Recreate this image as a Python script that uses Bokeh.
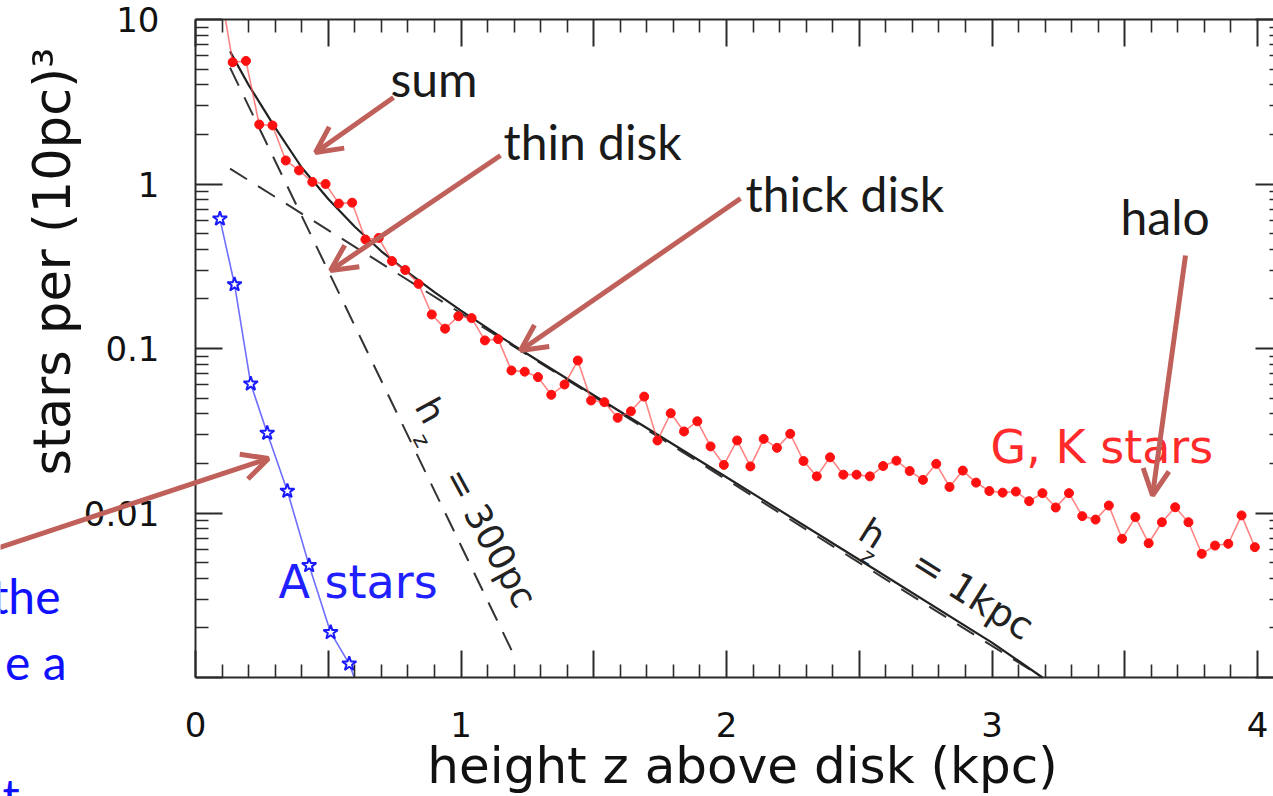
import math
from bokeh.plotting import figure
from bokeh.models import Range1d, FixedTicker, LinearAxis, LogAxis, Label, Arrow, OpenHead
from bokeh.embed import file_html
from bokeh.resources import INLINE

# ---------------- data ----------------
gk_z = [0.14, 0.19, 0.24, 0.29, 0.34, 0.39, 0.44, 0.49, 0.54, 0.59, 0.64, 0.69,
        0.74, 0.79, 0.84, 0.89, 0.94, 0.99, 1.04, 1.09, 1.14, 1.19, 1.24, 1.29, 1.34,
        1.39, 1.44, 1.49, 1.54, 1.59, 1.64, 1.69, 1.74, 1.79, 1.84, 1.89, 1.94, 1.99,
        2.04, 2.09, 2.14, 2.19, 2.24, 2.29, 2.34, 2.39, 2.44, 2.49, 2.54, 2.59, 2.64,
        2.69, 2.74, 2.79, 2.84, 2.89, 2.94, 2.99, 3.04, 3.09, 3.14, 3.19, 3.24, 3.29,
        3.34, 3.39, 3.44, 3.49, 3.54, 3.59, 3.64, 3.69, 3.74, 3.79, 3.84, 3.89, 3.94, 3.99]
gk_n = [5.5, 5.6, 2.30, 2.27, 1.39, 1.21, 1.03, 1.00, 0.76, 0.77, 0.46, 0.47,
        0.34, 0.30, 0.247, 0.161, 0.132, 0.157, 0.153, 0.112, 0.114, 0.0735, 0.0723, 0.067, 0.0523,
        0.0604, 0.0845, 0.0483, 0.0472, 0.0379, 0.0415, 0.051, 0.0276, 0.0404, 0.0313, 0.0361, 0.0254, 0.0196,
        0.0276, 0.0192, 0.0282, 0.0249, 0.0303, 0.0207, 0.0167, 0.0218, 0.0171, 0.0171, 0.0167, 0.0193, 0.0208,
        0.0180, 0.0159, 0.0199, 0.0144, 0.0181, 0.0153, 0.0136, 0.0133, 0.0135, 0.0118, 0.0132, 0.0108, 0.0132,
        0.00957, 0.00912, 0.0111, 0.00697, 0.00944, 0.00655, 0.00879, 0.01084, 0.00879, 0.00565, 0.00634, 0.0065, 0.00967, 0.0062]
# where the G,K line enters from above the top of the box
gk_entry_z = [0.113]
gk_entry_n = [10.0]

a_z = [0.092, 0.147, 0.208, 0.27, 0.346, 0.428, 0.509, 0.579, 0.598]
a_n = [0.614, 0.245, 0.061, 0.0306, 0.0136, 0.0048, 0.00188, 0.00121, 0.001]
a_mark = 8  # number of measured A-star points (last entry is where the line leaves the box)

thin_z = [0.13, 1.2]
thin_n = [5.1, 0.00136]
thick_z = [0.13, 3.19]
thick_n = [1.24, 0.001]
sum_z = [0.13, 0.2, 0.3, 0.4, 0.5, 0.6, 0.7, 0.8, 0.9, 1.0, 1.2, 1.5, 2.0, 2.5, 3.0, 3.19]
sum_n = [6.4, 4.0, 2.2, 1.26, 0.81, 0.55, 0.39, 0.29, 0.22, 0.17, 0.104, 0.052, 0.0165, 0.0052, 0.00163, 0.001]

x_major = [0, 0.5, 1, 1.5, 2, 2.5, 3, 3.5, 4]
x_tick_labels = ["0", "", "1", "", "2", "", "3", "", "4"]
y_major = [0.001, 0.01, 0.1, 1, 10]
y_tick_labels = ["", "0.01", "0.1", "1", "10"]

x_minor = [round(i * 0.1, 1) for i in range(41) if i % 5 != 0]
y_minor = [m * 10.0 ** e for e in range(-3, 1) for m in range(2, 10)]

# ---------------- geometry (pixel placement of the box) ----------------
W, H = 1273, 796
PX0, PXU = 195, 265.5      # x=0 pixel, pixels per kpc
PY10, PYD = 19, 164.5      # y=10 pixel, pixels per decade


def X(px):
    return (px - PX0) / PXU


def Y(py):
    return 10 ** (1 - (py - PY10) / PYD)


def YB(py, fs):
    # baseline position compensated for the renderer's baseline offset
    return Y(py - 0.36 * fs)


X_RIGHT = X(1282)

IDL = "DejaVu Sans"
SLIDE = "Lato"
AX = "#2a2a2a"

p = figure(width=W, height=H, x_range=Range1d(X(0), X(W)), y_range=Range1d(Y(H), Y(0)),
           y_axis_type="log", output_backend="svg", toolbar_location=None,
           min_border_left=0, min_border_right=0, min_border_top=0, min_border_bottom=0)
p.grid.visible = False
p.outline_line_color = None
p.background_fill_color = "white"
p.border_fill_color = "white"

xt = FixedTicker(ticks=x_major, minor_ticks=x_minor)
yt = FixedTicker(ticks=y_major, minor_ticks=y_minor)


def style(ax):
    ax.axis_line_color = AX
    ax.axis_line_width = 2
    ax.major_tick_line_color = AX
    ax.major_tick_line_width = 2
    ax.minor_tick_line_color = AX
    ax.minor_tick_line_width = 1.6
    ax.major_tick_in = 27
    ax.major_tick_out = 0
    ax.minor_tick_in = 13
    ax.minor_tick_out = 0
    ax.major_label_text_font = IDL
    ax.major_label_text_font_size = "34px"
    ax.major_label_text_color = "#111111"


xa = p.xaxis[0]
xa.ticker = xt
xa.fixed_location = 0.001
xa.bounds = (0, X_RIGHT)
xa.major_label_overrides = {float(t): l for t, l in zip(x_major, x_tick_labels)}
style(xa)
xa.major_label_standoff = 34

ya = p.yaxis[0]
ya.ticker = yt
ya.fixed_location = 0
ya.bounds = (0.001, 10)
ya.major_label_overrides = {float(t): l for t, l in zip(y_major, y_tick_labels)}
style(ya)
ya.major_label_standoff = 36

top = LinearAxis(ticker=xt, fixed_location=10, bounds=(0, X_RIGHT))
style(top)
top.major_label_overrides = {float(t): "" for t in x_major}
p.add_layout(top, "above")
right = LogAxis(ticker=yt, fixed_location=X_RIGHT, bounds=(0.001, 10))
style(right)
right.major_label_overrides = {float(t): "" for t in y_major}
p.add_layout(right, "right")

# axis titles
p.add_layout(Label(x=X(742), y=YB(783, 50), text="height z above disk (kpc)", text_font=IDL,
                   text_font_size="50px", text_color="#111111", text_align="center",
                   text_baseline="alphabetic"))
p.add_layout(Label(x=X(52), y=Y(261), text="stars per (10pc)\u00b3", text_font=IDL,
                   text_font_size="51px", text_color="#111111", text_align="center",
                   text_baseline="middle", angle=math.pi / 2))

# model curves
p.line(thin_z, thin_n, line_color="#333333", line_width=2, line_dash="20 13")
p.line(thick_z, thick_n, line_color="#333333", line_width=2, line_dash="20 13")
p.line(sum_z, sum_n, line_color="#222222", line_width=2.2)

# G, K stars
p.line(gk_entry_z + gk_z, gk_entry_n + gk_n, line_color="#ff5050", line_alpha=0.7, line_width=1.6)
p.scatter(gk_z, gk_n, marker="circle", size=9, fill_color="#ff1010", line_color="#ff1010")

# A stars
p.line(a_z, a_n, line_color="#4a4aff", line_alpha=0.8, line_width=1.6)
p.scatter(a_z[:a_mark], a_n[:a_mark], marker="star", size=15, fill_color="white",
          line_color="#1a1aff", line_width=2)

# ---------------- annotations ----------------
p.add_layout(Label(x=X(990), y=YB(463, 46), text="G, K stars", text_font=IDL, text_font_size="46px",
                   text_color="#ff2a2a", text_align="left", text_baseline="alphabetic"))
p.add_layout(Label(x=X(278), y=YB(598, 46), text="A stars", text_font=IDL, text_font_size="46px",
                   text_color="#2020ff", text_align="left", text_baseline="alphabetic"))

th = -1.07
for txt, px, py, fs in [("h", 430, 410, "36px"), ("z", 421, 440, "22px"), ("= 300pc", 490, 537, "36px")]:
    p.add_layout(Label(x=X(px), y=Y(py), text=txt, text_font=IDL, text_font_size=fs, angle=th,
                       text_color="#222222", text_align="center", text_baseline="middle"))
tk = -0.56
for txt, px, py, fs in [("h", 872, 533, "36px"), ("z", 868, 556, "22px"), ("= 1kpc", 972, 594, "38px")]:
    p.add_layout(Label(x=X(px), y=Y(py), text=txt, text_font=IDL, text_font_size=fs, angle=tk,
                       text_color="#222222", text_align="center", text_baseline="middle"))

for txt, px, py in [("sum", 390, 95), ("thin disk", 503, 158), ("thick disk", 745, 210), ("halo", 1120, 233)]:
    p.add_layout(Label(x=X(px), y=YB(py, 48), text=txt, text_font=SLIDE, text_font_size="48px",
                       text_color="#1a1a1a", text_align="left", text_baseline="alphabetic"))

for txt, px, py in [("the", 60, 612), ("e a", 66, 678)]:
    p.add_layout(Label(x=X(px), y=YB(py, 48), text=txt, text_font=SLIDE, text_font_size="48px",
                       text_color="#1010ff", text_align="right", text_baseline="alphabetic"))
p.add_layout(Label(x=X(2), y=YB(812, 48), text="t", text_font=SLIDE, text_font_size="48px",
                   text_color="#1010ff", text_align="left", text_baseline="alphabetic"))

ARC = "#c0605a"
for (sx, sy), (ex, ey) in [((393, 97), (315, 152)), ((500, 155), (330, 270)),
                           ((740, 198), (520, 350)), ((1185, 255), (1152, 495)),
                           ((-10, 550), (268, 458))]:
    p.add_layout(Arrow(end=OpenHead(size=26, line_width=5, line_color=ARC),
                       x_start=X(sx), y_start=Y(sy), x_end=X(ex), y_end=Y(ey),
                       line_width=5, line_color=ARC))

open("out.html", "w").write(file_html(p, INLINE))
